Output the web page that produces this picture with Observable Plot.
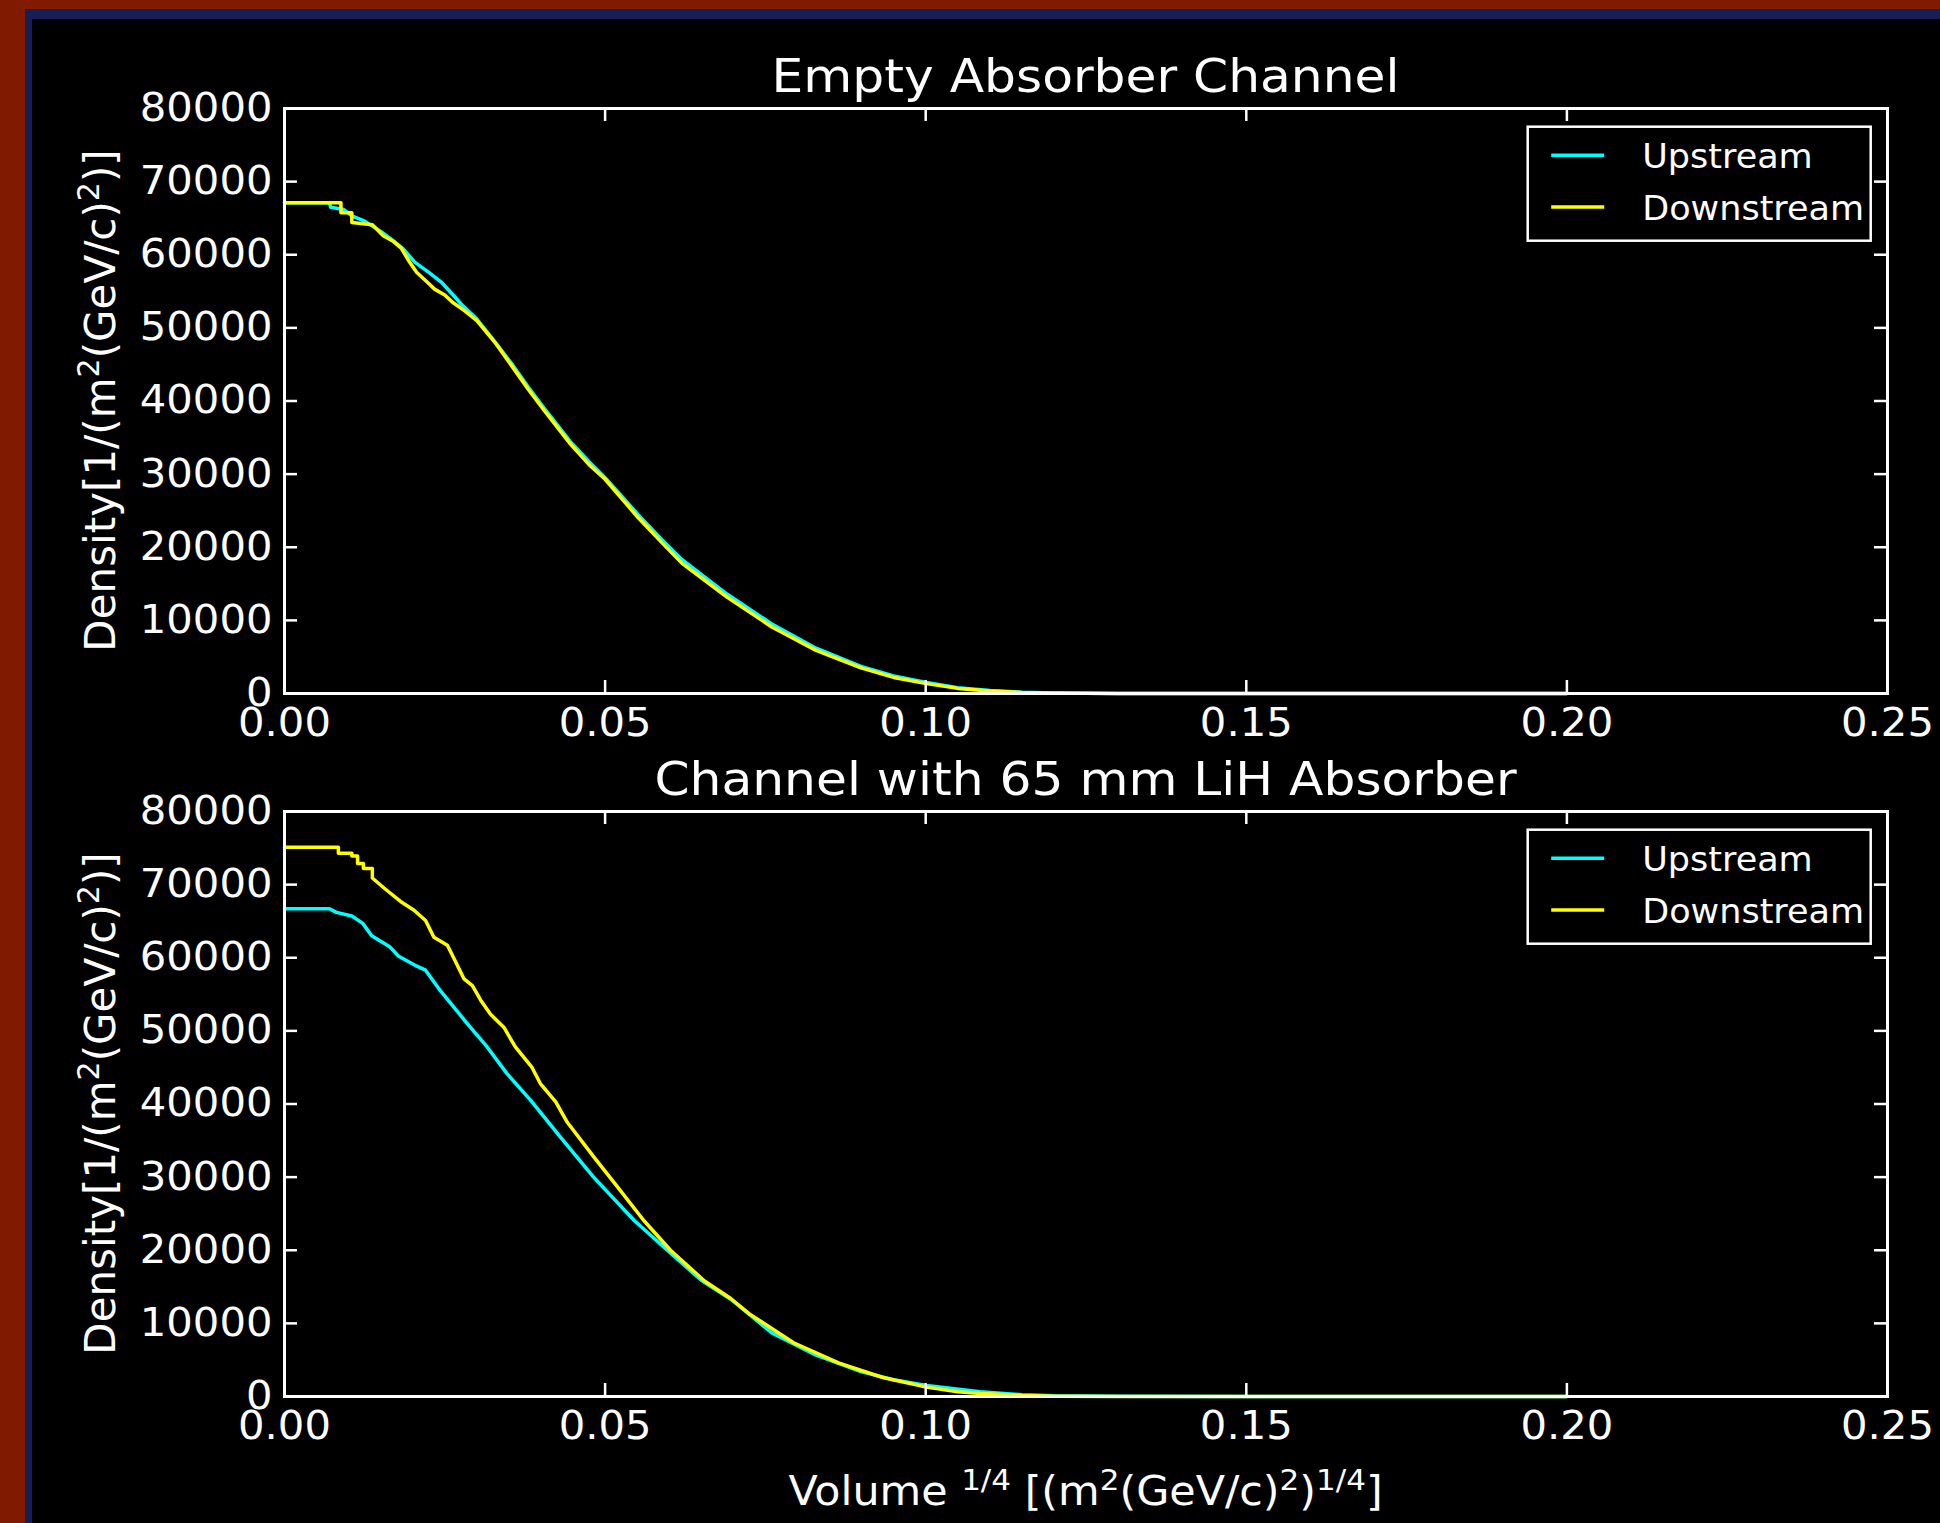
<!DOCTYPE html>
<html>
<head>
<meta charset="utf-8">
<script src="https://cdn.jsdelivr.net/npm/d3@7"></script>
<script src="https://cdn.jsdelivr.net/npm/@observablehq/plot@0.6"></script>
<style>
html, body { margin: 0; padding: 0; background: #801a00; }
#page { position: relative; width: 1940px; height: 1523px; overflow: hidden; background: #801a00; font-family: "DejaVu Sans", sans-serif; }
#blue { position: absolute; left: 25px; top: 9px; right: 0; bottom: 0; background: #151e55; }
#black { position: absolute; left: 32px; top: 19px; right: 0; bottom: 0; background: #000; }
#page svg { position: absolute; left: 0; }
</style>
</head>
<body>
<div id="page"><div id="blue"></div><div id="black"></div></div>
<script>
// ---- tick values ----
const xTicks = [0, 0.05, 0.10, 0.15, 0.20, 0.25];
const yTicks = [0, 10000, 20000, 30000, 40000, 50000, 60000, 70000, 80000];

// ---- legend ----
const seriesNames = ["Upstream", "Downstream"];
const seriesColors = ["#00ffff", "#ffff00"];

// ---- panel titles ----
const panelTitles = ["Empty Absorber Channel", "Channel with 65 mm LiH Absorber"];

// ---- Empty absorber channel, Upstream ----
const emptyUpV = [0, 0.0070, 0.0072, 0.0092, 0.0105, 0.0125, 0.0150, 0.0170, 0.0185, 0.0203, 0.0225, 0.0244, 0.0262, 0.0275, 0.0300, 0.0330, 0.0356, 0.0380, 0.0405, 0.0446, 0.0475, 0.0500, 0.0551, 0.0590, 0.0620, 0.0690, 0.0760, 0.0829, 0.0899, 0.0950, 0.1001, 0.1050, 0.1100, 0.1150, 0.1200, 0.1300, 0.1500, 0.2000];
const emptyUpD = [67100, 67100, 66500, 66200, 65300, 64600, 63200, 61900, 60800, 59000, 57600, 56300, 54600, 53300, 51200, 47900, 44900, 41900, 39000, 34400, 31700, 29500, 24500, 20900, 18300, 13600, 9500, 6200, 3700, 2400, 1500, 800, 400, 180, 70, 15, 0, 0];

// ---- Empty absorber channel, Downstream ----
const emptyDownV = [0, 0.0088, 0.0088, 0.0105, 0.0105, 0.0137, 0.0154, 0.0170, 0.0182, 0.0195, 0.0206, 0.0222, 0.0234, 0.0250, 0.0262, 0.0280, 0.0300, 0.0330, 0.0356, 0.0380, 0.0405, 0.0446, 0.0475, 0.0500, 0.0551, 0.0590, 0.0620, 0.0690, 0.0760, 0.0829, 0.0899, 0.0950, 0.1001, 0.1050, 0.1100, 0.1150, 0.1200, 0.1300, 0.1500, 0.2000];
const emptyDownD = [67100, 67100, 65750, 65750, 64400, 64100, 62600, 61800, 60900, 59000, 57600, 56300, 55300, 54500, 53500, 52400, 51000, 47800, 44600, 41600, 38700, 34100, 31300, 29300, 24100, 20500, 17800, 13200, 9100, 5900, 3500, 2200, 1350, 700, 350, 150, 60, 10, 0, 0];

// ---- 65 mm LiH absorber, Upstream ----
const lihUpV = [0, 0.0070, 0.0081, 0.0105, 0.0122, 0.0136, 0.0164, 0.0178, 0.0203, 0.0220, 0.0243, 0.0285, 0.0316, 0.0347, 0.0384, 0.0430, 0.0482, 0.0545, 0.0597, 0.0650, 0.0696, 0.0760, 0.0829, 0.0899, 0.0950, 0.1001, 0.1085, 0.1150, 0.1200, 0.1300, 0.1500, 0.2000];
const lihUpD = [66700, 66700, 66200, 65700, 64700, 63000, 61500, 60200, 59000, 58300, 55500, 51000, 47800, 44150, 40500, 35500, 30000, 24100, 20000, 15900, 13300, 8700, 5650, 3400, 2300, 1500, 650, 250, 100, 20, 0, 0];

// ---- 65 mm LiH absorber, Downstream ----
const lihDownV = [0, 0.0084, 0.0084, 0.0105, 0.0105, 0.0114, 0.0114, 0.0123, 0.0123, 0.0137, 0.0137, 0.0157, 0.0181, 0.0202, 0.0220, 0.0233, 0.0254, 0.0262, 0.0280, 0.0293, 0.0306, 0.0321, 0.0342, 0.0360, 0.0386, 0.0399, 0.0423, 0.0441, 0.0482, 0.0519, 0.0560, 0.0602, 0.0655, 0.0696, 0.0725, 0.0794, 0.0864, 0.0933, 0.1001, 0.1050, 0.1085, 0.1150, 0.1200, 0.1300, 0.1500, 0.2000];
const lihDownD = [75100, 75100, 74300, 74300, 73900, 73900, 72900, 72900, 72200, 72200, 70900, 69400, 67700, 66500, 65100, 62800, 61700, 60300, 57100, 56200, 54200, 52300, 50500, 47800, 45000, 42800, 40300, 37500, 32800, 28700, 24100, 20000, 15800, 13400, 11300, 7350, 4600, 2600, 1280, 650, 400, 140, 50, 10, 0, 0];

const FONT = "DejaVu Sans";
const SX = 1.07; // horizontal stretch of the reference lettering

function toRows(vs, ds, name) {
  return vs.map((v, i) => ({v, d: ds[i], series: name}));
}

function supText(sel, parts, supSize, shift) {
  let raised = false;
  parts.forEach(([t, sup]) => {
    const ts = sel.append("tspan").text(t);
    if (sup) {
      ts.attr("font-size", supSize);
      if (!raised) { ts.attr("dy", -shift); raised = true; }
    } else if (raised) { ts.attr("dy", shift); raised = false; }
  });
}

function makePanel(title, upV, upD, downV, downD, top, height, marginBottom, withXLabel) {
  const W = 1940, ML = 284, MR = 53, MT = 108;
  const plotW = W - ML - MR;
  const plotH = height - MT - marginBottom;
  const up = toRows(upV, upD, seriesNames[0]);
  const down = toRows(downV, downD, seriesNames[1]);
  const tickStyle = {stroke: "white", strokeWidth: 2.5};

  const svg = Plot.plot({
    width: W, height,
    marginLeft: ML, marginRight: MR, marginTop: MT, marginBottom,
    style: {background: "transparent", color: "white", fontFamily: FONT, fontSize: "39px", overflow: "visible"},
    x: {domain: [0, 0.25]},
    y: {domain: [0, 80000]},
    marks: [
      Plot.line(up, {x: "v", y: "d", stroke: seriesColors[0], strokeWidth: 3.5}),
      Plot.line(down, {x: "v", y: "d", stroke: seriesColors[1], strokeWidth: 3.5}),
      Plot.tickY(yTicks, {y: d => d, ...tickStyle, insetRight: plotW - 13}),
      Plot.tickY(yTicks, {y: d => d, ...tickStyle, insetLeft: plotW - 13}),
      Plot.tickX(xTicks, {x: d => d, ...tickStyle, insetBottom: plotH - 13}),
      Plot.tickX(xTicks, {x: d => d, ...tickStyle, insetTop: plotH - 13}),
      Plot.axisY({ticks: yTicks, tickSize: 0, tickPadding: 12, tickFormat: d => String(d), label: null, fontSize: 39}),
      Plot.axisX({ticks: xTicks, tickSize: 0, tickPadding: 15, tickFormat: d3.format(".2f"), label: null, fontSize: 39}),
      Plot.frame({stroke: "white", strokeWidth: 3})
    ]
  });
  svg.style.top = top + "px";
  const s = d3.select(svg);

  // stretch tick labels horizontally around their own anchor (vertical offsets untouched)
  s.selectAll('g[aria-label$="tick label"] text').each(function () {
    const t = d3.select(this);
    const xs = t.attr("x");
    let x = 0;
    if (xs != null && !/em/.test(xs) && isFinite(parseFloat(xs))) {
      x = parseFloat(xs);
      t.attr("x", null);
    }
    const tr = t.attr("transform") || "";
    t.attr("transform", `${tr} translate(${x},0) scale(${SX},1)`);
  });

  // title
  s.append("text")
    .attr("transform", `translate(${ML + plotW / 2},${MT - 16}) scale(${SX},1)`)
    .attr("text-anchor", "middle").attr("fill", "white")
    .attr("font-family", FONT).attr("font-size", 47)
    .text(title);

  // y label
  const yl = s.append("text")
    .attr("transform", `translate(115,${MT + plotH / 2}) rotate(-90)`)
    .attr("text-anchor", "middle").attr("fill", "white")
    .attr("font-family", FONT).attr("font-size", 42);
  supText(yl, [["Density[1/(m", false], ["2", true], ["(GeV/c)", false], ["2", true], [")]", false]], 30, 16);

  // legend
  const lx = ML + plotW - 16.3 - 343, ly = MT + 18.7;
  const lg = s.append("g");
  lg.append("rect").attr("x", lx).attr("y", ly).attr("width", 343).attr("height", 114)
    .attr("fill", "black").attr("stroke", "white").attr("stroke-width", 2.5);
  seriesNames.forEach((name, i) => {
    const cy = ly + 28.6 + i * 51.7;
    lg.append("line").attr("x1", lx + 23.5).attr("x2", lx + 76.5).attr("y1", cy).attr("y2", cy)
      .attr("stroke", seriesColors[i]).attr("stroke-width", 3.5);
    lg.append("text")
      .attr("transform", `translate(${lx + 114.5},${cy + 12.7}) scale(1.03,1)`)
      .attr("text-anchor", "start")
      .attr("fill", "white").attr("font-family", FONT).attr("font-size", 34).text(name);
  });

  if (withXLabel) {
    const xl = s.append("text")
      .attr("transform", `translate(${ML + plotW / 2},${height - 18}) scale(${SX},1)`)
      .attr("text-anchor", "middle").attr("fill", "white")
      .attr("font-family", FONT).attr("font-size", 40);
    supText(xl, [["Volume ", false], ["1/4", true], [" [(m", false], ["2", true], ["(GeV/c)", false], ["2", true], [")", false], ["1/4", true], ["]", false]], 29, 15);
  }
  document.getElementById("page").appendChild(svg);
}

makePanel(panelTitles[0], emptyUpV, emptyUpD, emptyDownV, emptyDownD, 0, 760, 67, false);
makePanel(panelTitles[1], lihUpV, lihUpD, lihDownV, lihDownD, 703, 820, 127, true);
</script>
</body>
</html>
